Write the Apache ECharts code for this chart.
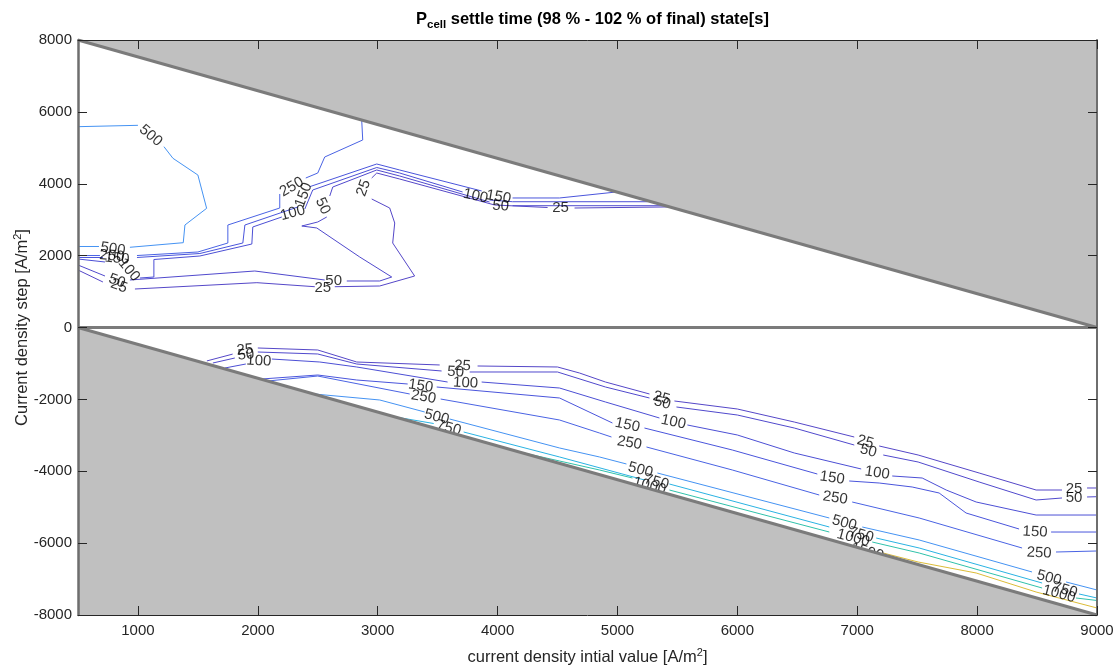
<!DOCTYPE html>
<html><head><meta charset="utf-8">
<script src="https://cdn.jsdelivr.net/npm/echarts@6/dist/echarts.min.js"></script>
<style>html,body{margin:0;padding:0;background:#fff}#c{width:1117px;height:670px}</style>
</head><body><div id="c"></div>
<script>
// ---- axes ----
const xTickValues = [1000, 2000, 3000, 4000, 5000, 6000, 7000, 8000, 9000];
const xRange = [500, 9000];
const yRange = [-8000, 8000];
const yInterval = 2000;

// ---- masked (invalid) regions ----
const maskUpper = [[500, 8000], [9000, 8000], [9000, 0]];
const maskLower = [[500, 0], [9000, -8000], [500, -8000]];
const maskEdges = [[[500, 8000], [9000, 0]], [[500, 0], [9000, -8000]], [[500, 0], [9000, 0]]];

// ---- contour levels (segments between inline labels) ----
const c25 = [
  [[1575, -930], [1790, -740]],
  [[2000, -570], [2500, -626], [2825, -960], [3517, -1043]],
  [[3833, -1071], [4500, -1099], [4683, -1266], [4900, -1517], [5267, -1850]],
  [[5475, -2045], [6000, -2268], [6475, -2630], [6975, -3047]],
  [[7183, -3297], [7508, -3548], [8017, -4049], [8492, -4522], [8708, -4522]],
  [[8917, -4466], [9000, -4466]],
  [[500, 1600], [708, 1266]],
  [[975, 1071], [1992, 1247], [2475, 1135]],
  [[2642, 1135], [3017, 1155], [3308, 1433], [3125, 2351], [3142, 2908], [3100, 3325], [2950, 3576]],
  [[2950, 4160], [2992, 4299], [3183, 4132], [3975, 3409], [4417, 3339]],
  [[4642, 3325], [5430, 3355]]
];
const lab25 = [[1892, -626, 5], [3708, -1071, -3], [5367, -1962, -15], [7067, -3186, -15], [8808, -4494, 0],
  [842, 1155, -20], [2542, 1099, 0], [2883, 3881, 70], [4525, 3325, 0]];

const c50 = [
  [[1625, -988], [1808, -849]],
  [[2000, -682], [2500, -737], [2825, -1016], [3533, -1210]],
  [[3767, -1238], [4500, -1238], [4900, -1656], [5267, -1962]],
  [[5492, -2212], [6000, -2435], [6475, -2797], [6975, -3270]],
  [[7217, -3548], [7508, -3743], [8017, -4299], [8492, -4800], [8708, -4744]],
  [[8917, -4716], [9000, -4708]],
  [[500, 1739], [725, 1433]],
  [[933, 1322], [1975, 1572], [2558, 1322]],
  [[2742, 1294], [3017, 1294], [3117, 1405], [2850, 1962], [2492, 2769], [2367, 2824], [2500, 2936], [2575, 3075]],
  [[2600, 3659], [2625, 3909], [2992, 4383], [3183, 4216], [3933, 3492]],
  [[4125, 3389], [5400, 3389]]
];
const lab50 = [[1900, -765, 5], [3650, -1238, -3], [5375, -2101, -15], [7092, -3437, -15], [8808, -4744, 0],
  [825, 1294, -20], [2633, 1294, 0], [2542, 3381, -65], [4025, 3381, -5]];

const c100 = [
  [[1725, -1127], [1900, -1016]],
  [[2117, -877], [2517, -960], [2825, -1099], [3583, -1517]],
  [[3867, -1517], [4517, -1684], [4900, -2073], [5350, -2518]],
  [[5583, -2713], [6000, -2991], [6475, -3492], [7033, -3937]],
  [[7292, -4132], [7542, -4188], [7742, -4522], [7992, -4856], [8492, -5218], [9000, -5218]],
  [[500, 1906], [725, 1823]],
  [[1017, 1377], [1133, 1405], [1133, 1892], [1517, 1990], [1950, 2323], [1958, 2797], [2200, 3075]],
  [[2392, 3297], [2458, 3826], [2992, 4452], [3183, 4299], [3708, 3771]],
  [[3933, 3548], [4125, 3500], [5250, 3500]]
];
const lab100 = [[2008, -932, -3], [3733, -1544, -3], [5467, -2630, -12], [7167, -4049, -8],
  [925, 1600, -50], [2292, 3186, 15], [3817, 3659, -12]];

const c150 = [
  [[2033, -1433], [2500, -1322], [2825, -1461], [3250, -1572]],
  [[3492, -1656], [4517, -1962], [4958, -2657]],
  [[5225, -2797], [5958, -3409], [6667, -4077]],
  [[6933, -4271], [7183, -4327], [7458, -4438], [7683, -4605], [7908, -5162], [8350, -5607]],
  [[8617, -5691], [9000, -5691]],
  [[500, 1948], [708, 1948]],
  [[992, 1948], [1517, 2059], [1875, 2351], [1892, 2852], [2333, 3353]],
  [[2433, 3918], [2992, 4550], [3183, 4383], [3867, 3799]],
  [[4125, 3604], [4517, 3604], [4992, 3771]]
];
const lab150 = [[3358, -1628, -8], [5083, -2713, -12], [6792, -4188, -8], [8483, -5691, -3],
  [825, 1920, -5], [2383, 3687, 70], [4008, 3632, -10]];

const c250 = [
  [[2083, -1489], [2500, -1350], [3267, -1850]],
  [[3525, -1990], [4517, -2574], [4850, -2936], [4950, -3047]],
  [[5242, -3325], [5958, -3965], [6683, -4661]],
  [[6958, -4856], [7517, -5301], [8375, -6136]],
  [[8658, -6247], [9000, -6219]],
  [[500, 2003], [683, 2003]],
  [[992, 2003], [1500, 2101], [1750, 2351], [1750, 2852], [2183, 3325], [2183, 3715]],
  [[2400, 4160], [2500, 4299], [2558, 4744], [2875, 5218], [2867, 5746]]
];
const lab250 = [[3383, -1934, -10], [5100, -3214, -10], [6817, -4744, -8], [8517, -6275, -3],
  [783, 1989, -5], [2283, 3909, 30]];

const c500 = [
  [[2470, -1850], [3017, -2017], [3392, -2351]],
  [[3600, -2546], [4517, -3353], [4850, -3603], [5075, -3798]],
  [[5333, -4049], [6767, -5301]],
  [[7042, -5551], [7517, -5913], [8458, -6803]],
  [[8742, -7081], [9000, -7304]],
  [[500, 5588], [1000, 5626]],
  [[1217, 5031], [1292, 4708], [1500, 4243], [1573, 3316], [1392, 2852], [1378, 2360], [933, 2232]],
  [[675, 2254], [500, 2254]]
];
const lab500 = [[3492, -2490, -15], [5192, -3965, -15], [6892, -5440, -15], [8600, -6970, -15],
  [1106, 5337, -40], [792, 2185, -8]];

const c750 = [
  [[3150, -2490], [3467, -2672]],
  [[3717, -2908], [4517, -3603], [5225, -4243]],
  [[5433, -4355], [6767, -5551]],
  [[7158, -5858], [7517, -6136], [8542, -7110]],
  [[8850, -7415], [9000, -7527]]
];
const lab750 = [[3592, -2797, -15], [5325, -4299, -15], [7033, -5774, -15], [8733, -7304, -15]];

const c1000 = [
  [[4183, -3465], [4517, -3715], [4850, -3965], [5125, -4188]],
  [[5433, -4522], [6767, -5691]],
  [[7125, -5969], [7517, -6275], [8542, -7249]],
  [[8825, -7527], [9000, -7596]]
];
const lab1000 = [[5267, -4410, -15], [6967, -5858, -15], [8683, -7415, -15]];

const c1500 = [
  [[7217, -6275], [7508, -6525], [7992, -6831], [8492, -7360], [9000, -7805]]
];
const lab1500 = [[7083, -6247, -15]];

// ---- build ----
const F = '"Liberation Sans", Arial, Helvetica, sans-serif';
const contours = [
  { level: 25, segs: c25, labs: lab25, color: '#5547c8' },
  { level: 50, segs: c50, labs: lab50, color: '#5049cd' },
  { level: 100, segs: c100, labs: lab100, color: '#4c4fd5' },
  { level: 150, segs: c150, labs: lab150, color: '#4a55dc' },
  { level: 250, segs: c250, labs: lab250, color: '#4a63e4' },
  { level: 500, segs: c500, labs: lab500, color: '#4593f3' },
  { level: 750, segs: c750, labs: lab750, color: '#2ab3e3' },
  { level: 1000, segs: c1000, labs: lab1000, color: '#30c2ab' },
  { level: 1500, segs: c1500, labs: lab1500, color: '#dcbc38' }
];

const series = [];
contours.forEach(c => {
  c.segs.forEach(seg => series.push({
    type: 'line', data: seg, showSymbol: false, symbol: 'none', silent: true, animation: false,
    lineStyle: { color: c.color, width: 1 }, z: 1
  }));
  series.push({
    type: 'scatter', symbolSize: 0, silent: true, animation: false, z: 2,
    data: c.labs.map(l => ({ value: [l[0], l[1]], label: { rotate: l[2] } })),
    itemStyle: { color: 'transparent' },
    label: { show: true, position: 'inside', formatter: String(c.level), fontSize: 15, color: '#000', fontFamily: F }
  });
});

const masks = [maskUpper, maskLower];
series.push({
  type: 'custom', z: 3, silent: true, animation: false,
  data: masks.map((m, i) => [i]),
  renderItem: (params, api) => ({
    type: 'polygon',
    shape: { points: masks[params.dataIndex].map(p => api.coord(p)) },
    style: { fill: '#c0c0c0', stroke: null }
  })
});
maskEdges.forEach(e => series.push({
  type: 'line', data: e, showSymbol: false, symbol: 'none', silent: true, animation: false,
  lineStyle: { color: '#7b7b7b', width: 3 }, z: 4
}));

const fmt = v => String(v);
const chart = echarts.init(document.getElementById('c'), null, { renderer: 'canvas' });
chart.setOption({
  backgroundColor: '#fff',
  animation: false,
  title: {
    left: 411, top: 2,
    text: '{p|P}{s|cell}{t| settle time (98 % - 102 % of final) state[s]}',
    textStyle: {
      rich: {
        p: { fontSize: 16.5, fontWeight: 'bold', color: '#000', fontFamily: F },
        s: { fontSize: 11.5, fontWeight: 'bold', color: '#000', fontFamily: F, padding: [12, 0, 0, 0] },
        t: { fontSize: 16.5, fontWeight: 'bold', color: '#000', fontFamily: F }
      }
    }
  },
  grid: { left: 78, right: 20, top: 40, bottom: 55, containLabel: false, outerBoundsMode: 'none' },
  xAxis: [{
    type: 'value', min: xRange[0], max: xRange[1], position: 'bottom', z: 10,
    axisLine: { show: true, onZero: false, lineStyle: { color: '#262626', width: 1 } },
    axisTick: { show: true, inside: true, length: 9, customValues: xTickValues, lineStyle: { color: '#262626' } },
    axisLabel: { customValues: xTickValues, formatter: fmt, fontSize: 15, color: '#262626', fontFamily: F, margin: 8 },
    splitLine: { show: false },
    name: '{a|current density intial value [A/m}{b|2}{a|]}',
    nameLocation: 'middle', nameGap: 32, nameMoveOverlap: false,
    nameTextStyle: { rich: {
      a: { fontSize: 16.5, color: '#262626', fontFamily: F },
      b: { fontSize: 11, color: '#262626', fontFamily: F, padding: [0, 0, 9, 0] }
    } }
  }, {
    type: 'value', min: xRange[0], max: xRange[1], position: 'top', z: 10,
    axisLine: { show: true, onZero: false, lineStyle: { color: '#262626', width: 1 } },
    axisTick: { show: true, inside: true, length: 9, customValues: xTickValues, lineStyle: { color: '#262626' } },
    axisLabel: { show: false }, splitLine: { show: false }
  }],
  yAxis: [{
    type: 'value', min: yRange[0], max: yRange[1], interval: yInterval, position: 'left', z: 10,
    axisLine: { show: true, onZero: false, lineStyle: { color: '#6e6e6e', width: 2.5 } },
    axisTick: { show: true, inside: true, length: 9, lineStyle: { color: '#262626' } },
    axisLabel: { formatter: fmt, fontSize: 15, color: '#262626', fontFamily: F, margin: 6 },
    splitLine: { show: false },
    name: '{a|Current density step [A/m}{b|2}{a|]}',
    nameLocation: 'middle', nameGap: 46, nameMoveOverlap: false,
    nameTextStyle: { rich: {
      a: { fontSize: 16.5, color: '#262626', fontFamily: F },
      b: { fontSize: 11, color: '#262626', fontFamily: F, padding: [0, 0, 9, 0] }
    } }
  }, {
    type: 'value', min: yRange[0], max: yRange[1], interval: yInterval, position: 'right', z: 10,
    axisLine: { show: true, onZero: false, lineStyle: { color: '#6e6e6e', width: 2 } },
    axisTick: { show: true, inside: true, length: 9, lineStyle: { color: '#262626' } },
    axisLabel: { show: false }, splitLine: { show: false }
  }],
  series: series
});
</script>
</body></html>
